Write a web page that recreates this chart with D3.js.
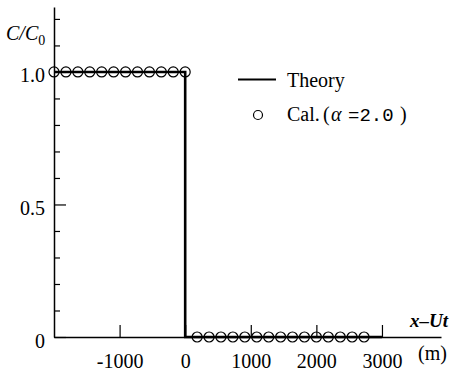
<!DOCTYPE html>
<html>
<head>
<meta charset="utf-8">
<script src="https://cdn.jsdelivr.net/npm/d3@7"></script>
<style>
  html, body { margin: 0; padding: 0; background: #fff; }
  svg { display: block; }
  text { font-family: "Liberation Serif", "Times New Roman", serif; fill: #000; }
</style>
</head>
<body>
<svg id="chart" width="452" height="376"></svg>
<script>
// Theoretical step profile of C/C0 against x - Ut (m)
const theoryX = [-2000, 0, 0, 3000];
const theoryY = [1.0, 1.0, 0.0, 0.0];

// Computed concentrations (alpha = 2.0)
const calX = [-2000, -1818, -1636, -1455, -1273, -1091, -909, -727, -545, -364, -182, 0,
              182, 364, 545, 727, 909, 1091, 1273, 1455, 1636, 1818, 2000, 2182, 2364, 2545, 2727];
const calY = [1, 1, 1, 1, 1, 1, 1, 1, 1, 1, 1, 1,
              0, 0, 0, 0, 0, 0, 0, 0, 0, 0, 0, 0, 0, 0, 0];

// Axis ticks
const xTicks = [-1000, 0, 1000, 2000, 3000];
const xTickLabels = ["-1000", "0", "1000", "2000", "3000"];
const yMajorTicks = [0, 0.5, 1.0];
const yMajorLabels = ["0", "0.5", "1.0"];
const yMinorTicks = [0.1, 0.2, 0.3, 0.4, 0.6, 0.7, 0.8, 0.9, 1.1, 1.2];

const svg = d3.select("#chart");

const x = d3.scaleLinear().domain([-2000, 3900]).range([54, 441]);
const y = d3.scaleLinear().domain([0, 1.245]).range([337, 7]);

// x axis: ticks pointing up into the plot
const xAxis = svg.append("g")
  .attr("transform", `translate(0,${y(0)})`)
  .call(d3.axisBottom(x)
    .tickValues(xTicks)
    .tickFormat((d, i) => xTickLabels[i])
    .tickSizeInner(-12)
    .tickSizeOuter(0)
    .tickPadding(17));
xAxis.select(".domain").attr("stroke-width", 1.5);
xAxis.selectAll(".tick line").attr("stroke-width", 1.2);
xAxis.selectAll(".tick text")
  .style("font-family", '"Liberation Serif", serif')
  .style("font-size", "20px");

// y axis: minor ticks
const yMinor = svg.append("g")
  .attr("transform", `translate(${x(-2000)},0)`)
  .call(d3.axisLeft(y)
    .tickValues(yMinorTicks)
    .tickFormat("")
    .tickSizeInner(-6)
    .tickSizeOuter(0));
yMinor.select(".domain").attr("stroke-width", 1.5);
yMinor.selectAll(".tick line").attr("stroke-width", 1.2);

// y axis: major ticks with labels
const yMajor = svg.append("g")
  .attr("transform", `translate(${x(-2000)},0)`)
  .call(d3.axisLeft(y)
    .tickValues(yMajorTicks)
    .tickFormat((d, i) => yMajorLabels[i])
    .tickSizeInner(-12)
    .tickSizeOuter(0)
    .tickPadding(9));
yMajor.select(".domain").remove();
yMajor.selectAll(".tick line").attr("stroke-width", 1.2);
yMajor.selectAll(".tick text")
  .attr("dy", "0.5em")
  .style("font-family", '"Liberation Serif", serif')
  .style("font-size", "20px");

// theory line
const line = d3.line().x(d => x(d[0])).y(d => y(d[1])).curve(d3.curveLinear);
svg.append("path")
  .datum(d3.zip(theoryX, theoryY))
  .attr("d", line)
  .attr("fill", "none")
  .attr("stroke", "#000")
  .attr("stroke-width", 2.6);

// computed points
svg.append("g")
  .selectAll("circle")
  .data(d3.zip(calX, calY))
  .join("circle")
  .attr("cx", d => x(d[0]))
  .attr("cy", d => y(d[1]))
  .attr("r", 5)
  .attr("fill", "none")
  .attr("stroke", "#000")
  .attr("stroke-width", 1.2);

// axis titles
const yTitle = svg.append("text")
  .attr("x", 6).attr("y", 40)
  .style("font-size", "20px")
  .style("font-style", "italic");
yTitle.append("tspan").text("C/C");
yTitle.append("tspan").attr("dy", 5).style("font-size", "14px").style("font-style", "normal").text("0");

svg.append("text")
  .attr("x", 448).attr("y", 327)
  .attr("text-anchor", "end")
  .style("font-size", "19px")
  .style("font-style", "italic")
  .style("font-weight", "bold")
  .text("x\u2013Ut");

svg.append("text")
  .attr("x", 447).attr("y", 360)
  .attr("text-anchor", "end")
  .style("font-size", "20px")
  .text("(m)");

// legend
const legend = svg.append("g");
legend.append("line")
  .attr("x1", 238).attr("x2", 276)
  .attr("y1", 79.5).attr("y2", 79.5)
  .attr("stroke", "#000").attr("stroke-width", 2);
legend.append("text")
  .attr("x", 287).attr("y", 87)
  .style("font-size", "20px")
  .text("Theory");
legend.append("circle")
  .attr("cx", 258).attr("cy", 115).attr("r", 4.5)
  .attr("fill", "none").attr("stroke", "#000").attr("stroke-width", 1.2);
const cal = legend.append("text")
  .attr("x", 287).attr("y", 121)
  .style("font-size", "20px");
cal.append("tspan").text("Cal.");
cal.append("tspan").attr("x", 323).text("(");
cal.append("tspan").attr("x", 331).style("font-style", "italic").text("\u03b1");
cal.append("tspan").attr("x", 348)
  .style("font-family", '"Liberation Mono", monospace')
  .style("font-size", "19px")
  .text("=2.0");
cal.append("tspan").attr("x", 400).text(")");
</script>
</body>
</html>
